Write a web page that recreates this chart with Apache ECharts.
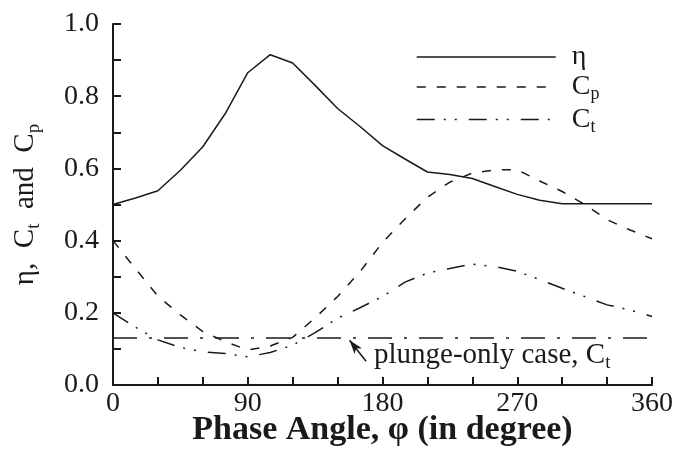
<!DOCTYPE html>
<html>
<head>
<meta charset="utf-8">
<title>Phase Angle</title>
<script src="https://cdn.jsdelivr.net/npm/echarts@6/dist/echarts.min.js"></script>
<style>
    html, body { margin: 0; padding: 0; background: #fff; }
    #phaseChart { width: 674px; height: 451px; }
</style>
</head>
<body>
<div id="phaseChart"></div>
<script>
// 相位角（度）
const phaseAngles = [0, 15, 30, 45, 60, 75, 90, 105, 120, 135, 150, 165, 180,
    195, 210, 225, 240, 255, 270, 285, 300, 315, 330, 345, 360];

// 效率 η
const etaValues = [0.500, 0.518, 0.538, 0.595, 0.660, 0.752, 0.865, 0.915, 0.892, 0.830, 0.766, 0.716, 0.663,
    0.626, 0.590, 0.583, 0.572, 0.550, 0.528, 0.512, 0.502, 0.502, 0.502, 0.502, 0.502];

// 功率系数 Cp
const cpValues = [0.400, 0.322, 0.246, 0.194, 0.148, 0.120, 0.097, 0.108, 0.132, 0.186, 0.245, 0.314, 0.395,
    0.460, 0.520, 0.562, 0.587, 0.596, 0.596, 0.565, 0.536, 0.500, 0.458, 0.430, 0.405];

// 推力系数 Ct
const ctValues = [0.200, 0.160, 0.125, 0.104, 0.092, 0.087, 0.078, 0.090, 0.110, 0.145, 0.185, 0.214, 0.245,
    0.285, 0.310, 0.323, 0.335, 0.328, 0.315, 0.292, 0.268, 0.245, 0.222, 0.208, 0.190];

// 纯沉浮情况 Ct
const plungeCt = 0.13;

// 刻度标签
const xTickLabels = [0, 90, 180, 270, 360];
const yTickLabels = ['0.0', '0.2', '0.4', '0.6', '0.8', '1.0'];

const SERIF = '"Liberation Serif", "Times New Roman", serif';
const INK = '#1a1a1a';

document.addEventListener('DOMContentLoaded', function () {
    const chartDom = document.getElementById('phaseChart');
    const chart = echarts.init(chartDom, null, { renderer: 'canvas' });
    chart.setOption(getChartOptions());
});

function toPairs(values) {
    return phaseAngles.map((a, i) => [a, values[i]]);
}

// 下标文字样式
function richStyle(size, subSize, lineHeight) {
    return {
        a: { fontFamily: SERIF, fontSize: size, color: INK, lineHeight: lineHeight, verticalAlign: 'middle' },
        s: { fontFamily: SERIF, fontSize: subSize, color: INK, lineHeight: lineHeight, verticalAlign: 'bottom' }
    };
}

function lineSeries(name, values, dash) {
    return {
        name: name,
        type: 'line',
        data: toPairs(values),
        symbol: 'none',
        showSymbol: false,
        smooth: false,
        lineStyle: { color: INK, width: 1.5, type: dash },
        itemStyle: { color: INK },
        z: 3
    };
}

function getChartOptions() {
    const legendNames = {
        'η': '{a|η}',
        'Cp': '{a|C}{s|p}',
        'Ct': '{a|C}{s|t}'
    };
    return {
        animation: false,
        backgroundColor: '#fff',
        grid: { left: 113, right: 22, top: 24, bottom: 66, outerBoundsMode: 'none', containLabel: false },
        legend: {
            data: ['η', 'Cp', 'Ct'],
            orient: 'vertical',
            left: 411,
            top: 38,
            itemWidth: 139,
            itemHeight: 33,
            itemGap: 2,
            formatter: name => legendNames[name],
            textStyle: {
                padding: [0, 0, 0, 11],
                rich: richStyle(28, 18, 33)
            },
            itemStyle: { opacity: 0 },
            lineStyle: { width: 1.5 }
        },
        xAxis: {
            type: 'value',
            min: 0,
            max: 360,
            interval: 30,
            name: 'Phase Angle, φ (in degree)',
            nameLocation: 'middle',
            nameGap: 28,
            nameMoveOverlap: false,
            nameTextStyle: { fontFamily: SERIF, fontSize: 34, fontWeight: 'bold', color: INK },
            axisLine: { lineStyle: { color: INK, width: 2 } },
            axisTick: { inside: true, length: 8, lineStyle: { color: INK, width: 2 } },
            axisLabel: {
                fontFamily: SERIF, fontSize: 28, color: INK, margin: 5,
                formatter: v => xTickLabels.includes(v) ? String(v) : ''
            },
            splitLine: { show: false }
        },
        yAxis: {
            type: 'value',
            min: 0,
            max: 1,
            interval: 0.1,
            name: '{a|η,  C}{s|t}{a|  and  C}{s|p}',
            nameLocation: 'middle',
            nameGap: 69,
            nameMoveOverlap: false,
            nameTextStyle: { rich: richStyle(29, 19, 38) },
            axisLine: { lineStyle: { color: INK, width: 2 } },
            axisTick: { inside: true, length: 8, lineStyle: { color: INK, width: 2 } },
            axisLabel: {
                fontFamily: SERIF, fontSize: 28, color: INK, margin: 14,
                formatter: v => {
                    const s = v.toFixed(1);
                    return yTickLabels.includes(s) ? s : '';
                }
            },
            splitLine: { show: false }
        },
        series: [
            lineSeries('η', etaValues, 'solid'),
            lineSeries('Cp', cpValues, [9, 11]),
            lineSeries('Ct', ctValues, [18, 9, 2, 9, 2, 12]),
            {
                name: 'plunge',
                type: 'line',
                data: [[0, plungeCt], [360, plungeCt]],
                symbol: 'none',
                lineStyle: { color: INK, width: 1.5, type: [24, 12, 3, 12] },
                markLine: {
                    silent: true,
                    symbol: ['none', 'arrow'],
                    symbolSize: [7, 14],
                    lineStyle: { color: INK, width: 1.5, type: 'solid' },
                    label: { show: false },
                    data: [[{ coord: [169, 0.066] }, { coord: [158, 0.124] }]]
                }
            }
        ],
        graphic: [{
            type: 'text',
            left: 374,
            top: 341,
            style: {
                text: '{a|plunge-only case, C}{s|t}',
                rich: {
                    a: { fontFamily: SERIF, fontSize: 29, fill: INK, lineHeight: 34, verticalAlign: 'middle' },
                    s: { fontFamily: SERIF, fontSize: 19, fill: INK, lineHeight: 34, verticalAlign: 'bottom' }
                }
            }
        }]
    };
}
</script>
</body>
</html>
